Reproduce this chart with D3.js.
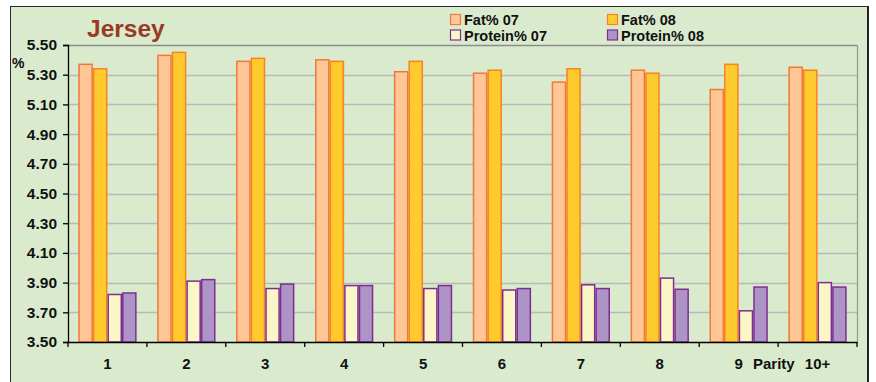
<!DOCTYPE html>
<html><head><meta charset="utf-8">
<script src="https://cdn.jsdelivr.net/npm/d3@7"></script>
<style>body{margin:0;background:#fff}svg{display:block;font-family:"Liberation Sans",Arial,sans-serif}</style>
</head><body>
<script>
const categories = ["1","2","3","4","5","6","7","8","9","10+"];
const seriesNames = ["Fat% 07","Fat% 08","Protein% 07","Protein% 08"];
const fat07 = [5.37,5.43,5.39,5.40,5.32,5.31,5.25,5.33,5.20,5.35];
const fat08 = [5.34,5.45,5.41,5.39,5.39,5.33,5.34,5.31,5.37,5.33];
const prot07 = [3.82,3.91,3.86,3.88,3.86,3.85,3.885,3.93,3.71,3.90];
const prot08 = [3.83,3.92,3.89,3.88,3.88,3.86,3.86,3.855,3.87,3.87];
const yTicks = [3.50,3.70,3.90,4.10,4.30,4.50,4.70,4.90,5.10,5.30,5.50];
const fills = ["#FFC796","#FFCA2E","#FAF6C6","#AD93C6"];
const strokes = ["#F0783C","#FA8220","#7D2F90","#7D2F90"];
const seriesData = [fat07,fat08,prot07,prot08];

const W=876,H=382;
const svg=d3.select("body").append("svg").attr("width",W).attr("height",H);
// frame
svg.append("rect").attr("x",10.5).attr("y",6.5).attr("width",857).attr("height",400)
  .attr("fill","#D9EACD").attr("stroke","#2a2a2a").attr("stroke-width",1);
svg.append("line").attr("x1",868).attr("x2",868).attr("y1",6).attr("y2",H).attr("stroke","#222").attr("stroke-width",2);

const L=68,R=857,T=45,B=342;
const x=d3.scaleBand().domain(categories).range([L,R]).paddingInner(0).paddingOuter(0);
const y=d3.scaleLinear().domain([3.5,5.5]).range([B,T]);
const groupPad=10.3;
const xs=d3.scaleBand().domain(d3.range(4)).range([groupPad,x.bandwidth()-groupPad]).padding(0);

// grid
svg.append("g").selectAll("line").data(yTicks.slice(1)).join("line")
  .attr("x1",L).attr("x2",R).attr("y1",d=>Math.round(y(d))+0.5).attr("y2",d=>Math.round(y(d))+0.5)
  .attr("stroke",d=>d===5.5?"#8c8c8c":"#b9b9b9").attr("stroke-width",1.3);
svg.append("line").attr("x1",R+0.5).attr("x2",R+0.5).attr("y1",T).attr("y2",B).attr("stroke","#9a9a9a").attr("stroke-width",1.3);

// bars
seriesData.forEach((arr,si)=>{
  svg.append("g").selectAll("rect").data(arr).join("rect")
    .attr("x",(d,i)=>x(categories[i])+xs(si)+0.75)
    .attr("y",d=>y(d))
    .attr("width",xs.bandwidth()-1.5)
    .attr("height",d=>B-y(d))
    .attr("fill",fills[si]).attr("stroke",strokes[si]).attr("stroke-width",1.5);
});

// axes
const yAxis=d3.axisLeft(y).tickValues(yTicks).tickFormat(d3.format(".2f")).tickSize(5).tickPadding(6);
const gy=svg.append("g").attr("transform",`translate(${L},0)`).call(yAxis);
gy.select(".domain").attr("stroke","#000").attr("stroke-width",1.3);
gy.selectAll(".tick line").attr("stroke","#000").attr("stroke-width",1.3);
gy.selectAll("text").attr("font-size","15.5px").attr("font-weight","bold").attr("fill","#111").attr("font-family","'Liberation Sans',Arial,sans-serif");

const xAxis=d3.axisBottom(x).tickSize(0).tickPadding(16);
const gx=svg.append("g").attr("transform",`translate(0,${B})`).call(xAxis);
gx.select(".domain").attr("stroke","#000").attr("stroke-width",1.5);
gx.selectAll("text").attr("font-size","15px").attr("font-weight","bold").attr("fill","#111").attr("font-family","'Liberation Sans',Arial,sans-serif");
// boundary ticks
gx.append("g").selectAll("line").data(d3.range(categories.length+1)).join("line")
  .attr("x1",i=>L+i*x.bandwidth()).attr("x2",i=>L+i*x.bandwidth())
  .attr("y1",0).attr("y2",5).attr("stroke","#000").attr("stroke-width",1.3);

// labels
svg.append("text").attr("x",87).attr("y",37).text("Jersey").attr("font-size","24.5px").attr("font-weight","bold").attr("fill","#9A3A24");
svg.append("text").attr("x",12).attr("y",68).text("%").attr("font-size","14px").attr("font-weight","bold").attr("fill","#111");
svg.append("text").attr("x",753).attr("y",369).text("Parity").attr("font-size","15px").attr("font-weight","bold").attr("fill","#111");

// legend
const legPos=[[450,25],[607,25],[450,40.5],[607,40.5]];
seriesNames.forEach((n,i)=>{
  const [lx,ly]=legPos[i];
  svg.append("rect").attr("x",lx+0.5).attr("y",ly-10.5).attr("width",10).attr("height",10)
    .attr("fill",fills[i]).attr("stroke",strokes[i]).attr("stroke-width",1.2);
  svg.append("text").attr("x",lx+14).attr("y",ly).text(n).attr("font-size","14.5px").attr("font-weight","bold").attr("fill","#111");
});
</script>
</body></html>
